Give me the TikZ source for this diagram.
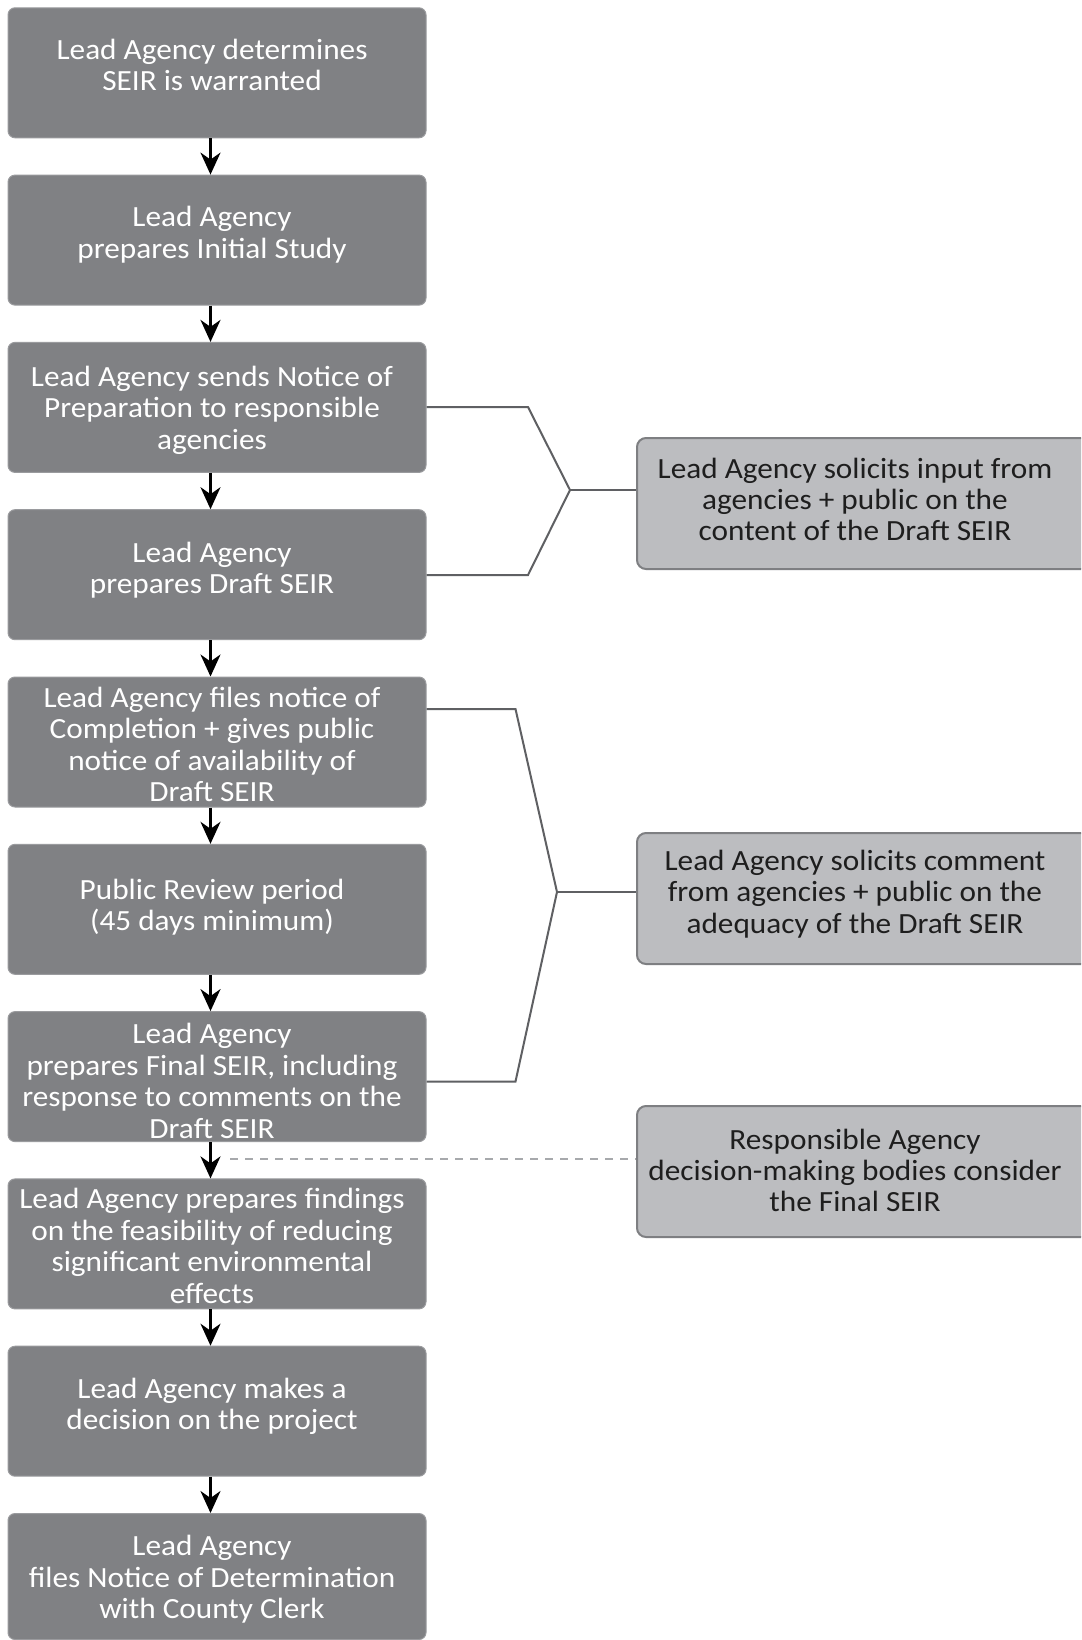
\documentclass[tikz,border=0pt]{standalone}
\usepackage{fontspec}
\setmainfont{Carlito}[FakeStretch=1.067]
\usetikzlibrary{arrows.meta,calc}
\definecolor{dk}{HTML}{808184}
\definecolor{lbord}{HTML}{9A9B9E}
\definecolor{lt}{HTML}{BCBDC0}
\definecolor{rbord}{HTML}{7E7F82}
\definecolor{txt}{HTML}{1E1E1E}
\definecolor{brc}{HTML}{5F6063}
\definecolor{dsc}{HTML}{A7A9AC}
\begin{document}
\begin{tikzpicture}[x=1pt,y=-1pt,
  lbox/.style={draw=lbord, line width=1pt, fill=dk, rounded corners=7pt, minimum width=418pt, minimum height=130pt, inner sep=0pt, anchor=north west},
  ltext/.style={text=white, align=center, font=\fontsize{29.3}{31.4}\selectfont, inner sep=0pt},
  rbox/.style={draw=rbord, line width=2pt, fill=lt, rounded corners=9pt, minimum width=460pt, minimum height=131pt, inner sep=0pt, anchor=north west},
  rtext/.style={text=txt, align=center, font=\fontsize{29.3}{31.4}\selectfont, inner sep=0pt},
  arr/.style={line width=2.6pt, -{Stealth[length=22pt,width=20pt,inset=7pt]}},
  brk/.style={draw=brc, line width=2pt},
  dsh/.style={draw=dsc, line width=2.4pt, dash pattern=on 8pt off 7pt}]
\useasboundingbox (0,0) rectangle (1081,1640);
\clip (0,0) rectangle (1081,1640);
\fill[white] (0,0) rectangle (1081,1640);
% left boxes
\node[lbox] (b1) at (7.5,7.3) {};
\node[lbox] (b2) at (7.5,174.6) {};
\node[lbox] (b3) at (7.5,341.9) {};
\node[lbox] (b4) at (7.5,509.2) {};
\node[lbox] (b5) at (7.5,676.5) {};
\node[lbox] (b6) at (7.5,843.8) {};
\node[lbox] (b7) at (7.5,1011.1) {};
\node[lbox] (b8) at (7.5,1178.4) {};
\node[lbox] (b9) at (7.5,1345.7) {};
\node[lbox, minimum height=126pt] (b10) at (7.5,1513) {};
% left texts
\node[ltext] (t1) at (212,64.8) {Lead Agency determines\\SEIR is warranted};
\node[ltext] (t2) at (212,234.6) {Lead Agency\\prepares Initial Study};
\node[ltext] (t3) at (212,410) {Lead Agency sends Notice of\\Preparation to responsible\\agencies};
\node[ltext] (t4) at (212,570.2) {Lead Agency\\prepares Draft SEIR};
\node[ltext] (t5) at (212,744.5) {Lead Agency files notice of\\Completion + gives public\\notice of availability of\\Draft SEIR};
\node[ltext] (t6) at (212,907) {Public Review period\\(45 days minimum)};
\node[ltext] (t7) at (212,1081) {Lead Agency\\prepares Final SEIR, including\\response to comments on the\\Draft SEIR};
\node[ltext] (t8) at (212,1246) {Lead Agency prepares findings\\on the feasibility of reducing\\significant environmental\\effects};
\node[ltext] (t9) at (212,1406.5) {Lead Agency makes a\\decision on the project};
\node[ltext] (t10) at (212,1579.5) {Lead Agency\\files Notice of Determination\\with County Clerk};
% right boxes
\node[rbox] (rA) at (636,437) {};
\node[rbox] (rB) at (636,832) {};
\node[rbox] (rC) at (636,1105) {};
\node[rtext] (sA) at (855,499.5) {Lead Agency solicits input from\\agencies + public on the\\content of the Draft SEIR};
\node[rtext] (sB) at (855,894) {Lead Agency solicits comment\\from agencies + public on the\\adequacy of the Draft SEIR};
\node[rtext] (sC) at (855,1170.5) {Responsible Agency\\decision-making bodies consider\\the Final SEIR};
% arrows
\coordinate (ax) at (210.5,0);
\foreach \i/\j in {b1/b2,b2/b3,b3/b4,b4/b5,b5/b6,b6/b7,b7/b8,b8/b9,b9/b10}
  \draw[arr] (\i.south -| ax) -- (\j.north -| ax);
% bracket 1
\coordinate (k1) at (528,407);
\coordinate (v1) at (570,490);
\coordinate (k2) at (528,575);
\draw[brk] (b3.east |- k1) -- (k1) -- (v1) -- (k2) -- (b4.east |- k2);
\draw[brk] (v1) -- (v1 -| rA.west);
% bracket 2
\coordinate (k3) at (515.5,709);
\coordinate (v2) at (557,892);
\coordinate (k4) at (515.5,1081.5);
\draw[brk] (b5.east |- k3) -- (k3) -- (v2) -- (k4) -- (b7.east |- k4);
\draw[brk] (v2) -- (v2 -| rB.west);
% dashed link
\coordinate (d0) at (230,1159);
\draw[dsh] (d0) -- (d0 -| rC.west);
\end{tikzpicture}
\end{document}
